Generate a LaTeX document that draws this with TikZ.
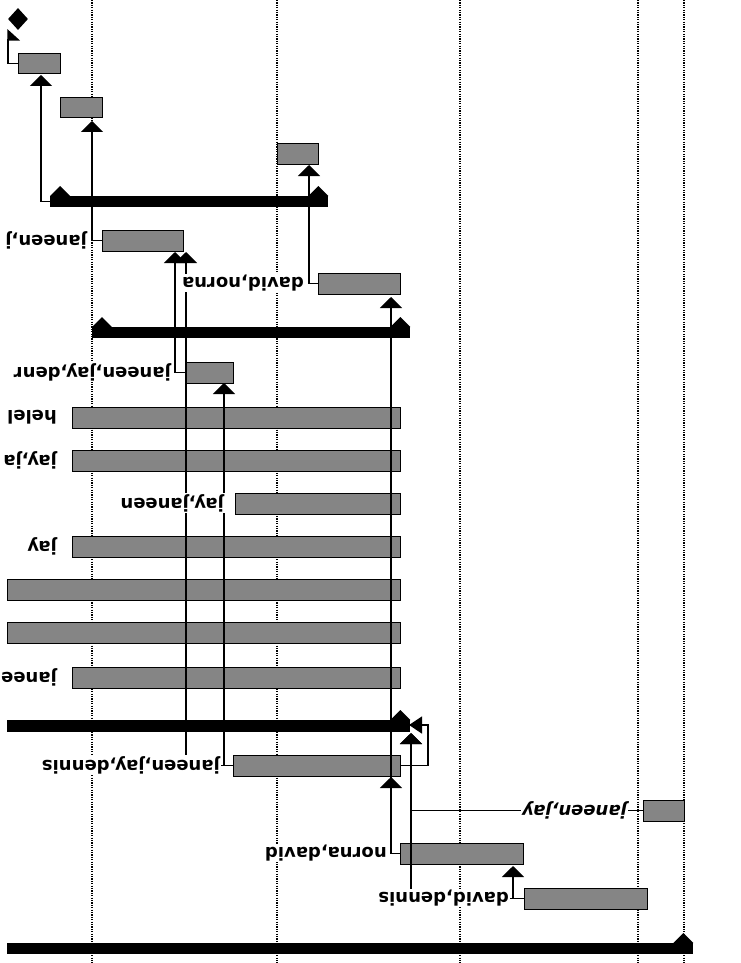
\documentclass[tikz,border=0pt]{standalone}
\usepackage{fontspec}
\setmainfont{DejaVu Sans}
\usetikzlibrary{calc,positioning,arrows.meta,shapes.geometric}
\definecolor{color_bar_fill}{HTML}{858585}

\tikzset{
	taskbar/.style={draw=black,line width=1pt,fill=color_bar_fill,anchor=north west,inner sep=0pt,minimum height=20.5pt},
	sumbar/.style={fill=black,anchor=north west,inner sep=0pt,minimum height=11pt},
	gridline/.style={line width=1.2pt,dash pattern=on 1.2pt off 1.2pt},
	link/.style={line width=1.4pt,-{Triangle[width=22pt,length=11pt]}},
	lbl/.style={font=\bfseries\fontsize{18}{20}\selectfont,fill=white,inner sep=1pt,rotate=180,anchor=west},
}

\begin{document}
\begin{tikzpicture}[x=1pt,y=-1pt]
				\useasboundingbox (0, 0) rectangle (740, 963);
				% Grid
				\foreach \gx in {92, 277, 460, 638, 684}
					\draw[gridline] (\gx, 0) -- (\gx, 963);

				% Milestone
				\node[diamond,fill=black,inner sep=0pt,minimum width=20pt,minimum height=22pt] (M) at (18, 19) {};

				% Task bars
				\node[taskbar,minimum width=42pt] (A) at (18, 53) {};
				\node[taskbar,minimum width=42pt] (B) at (60, 97) {};
				\node[taskbar,minimum width=41pt] (C) at (277, 143) {};
				\node[taskbar,minimum width=81pt] (D) at (102, 230) {};
				\node[taskbar,minimum width=82pt] (E) at (318, 273) {};
				\node[taskbar,minimum width=48pt] (F) at (185, 362) {};
				\node[taskbar,minimum width=328pt] (H1) at (72, 407) {};
				\node[taskbar,minimum width=328pt] (H2) at (72, 450) {};
				\node[taskbar,minimum width=165pt] (H3) at (235, 493) {};
				\node[taskbar,minimum width=328pt] (H4) at (72, 536) {};
				\node[taskbar,minimum width=393pt] (H5) at (7, 579) {};
				\node[taskbar,minimum width=393pt] (H6) at (7, 622) {};
				\node[taskbar,minimum width=328pt] (H7) at (72, 667) {};
				\node[taskbar,minimum width=167pt] (G) at (233, 755) {};
				\node[taskbar,minimum width=123pt] (L) at (400, 843) {};
				\node[taskbar,minimum width=123pt] (K) at (524, 888) {};
				\node[taskbar,minimum width=41pt] (J) at (643, 800) {};

				% Summary bars
				\node[sumbar,minimum width=278pt] (S1) at (50, 196) {};
				\node[sumbar,minimum width=318pt] (S2) at (92, 327) {};
				\node[sumbar,minimum width=403pt,minimum height=12pt] (S3) at (7, 720) {};
				\node[sumbar,minimum width=686pt] (S4) at (7, 943) {};
				\fill (S1.north west) -- ++(20, 0) -- ++(-10, -10) -- cycle;
				\fill (S1.north east) -- ++(-20, 0) -- ++(10, -10) -- cycle;
				\fill (S2.north west) -- ++(20, 0) -- ++(-10, -10) -- cycle;
				\fill (S2.north east) -- ++(-20, 0) -- ++(10, -10) -- cycle;
				\fill (S3.north east) -- ++(-20, 0) -- ++(10, -10) -- cycle;
				\fill (S4.north east) -- ++(-20, 0) -- ++(10, -10) -- cycle;

				% Arrow targets
				\coordinate (tM) at (8, 29);
				\coordinate (tA) at (41, 75);
				\coordinate (tB) at (92, 121);
				\coordinate (tC) at (309, 165);
				\coordinate (tD1) at (175, 252);
				\coordinate (tD2) at (186, 252);
				\coordinate (tE) at (391, 297);
				\coordinate (tF) at (224, 383);
				\coordinate (tG) at (391, 777);
				\coordinate (tS3) at (411, 733);
				\coordinate (tS3e) at (409, 725);
				\coordinate (tL) at (513, 866);

				% Links
				\draw[link,-{Triangle[width=24pt,length=11pt,right]}] (A.west) -| (tM);
				\draw[link] (S1.west) -| (tA);
				\draw[link] (D.west) -| (tB);
				\draw[link] (E.west) -| (tC);
				\draw[link] (F.west) -| (tD1);
				\draw[link] (G.west) -| (tD2);
				\draw[link] (G.west) -| (tF);
				\draw[link] (L.west) -| (tE);
				\draw[link] (L.west) -| (tG);
				\draw[link,-{Triangle[width=17pt,length=13pt]}] (G.east) -- ++(27, 0) |- (tS3e);
				\draw[link] (J.west) -| (tS3);
				\draw[link] (K.west) -| (tS3);
				\draw[link] (K.west) -| (tL);

				% Labels
				\node[lbl] (lD) at (88, 240) {janeen,j};
				\node[lbl] (lE) at (305, 283) {david,norna};
				\node[lbl] (lF) at (172, 372) {janeen,jay,denr};
				\node[lbl] (lH1) at (58, 417) {helel};
				\node[lbl] (lH2) at (58, 460) {jay,ja};
				\node[lbl] (lH3) at (225, 503) {jay,janeen};
				\node[lbl] (lH4) at (58, 546) {jay};
				\node[lbl] (lH7) at (58, 677) {janee};
				\node[lbl] (lG) at (221, 765) {janeen,jay,dennis};
				\node[lbl] (lL) at (388, 853) {norna,david};
				\node[lbl] (lK) at (510, 898) {david,dennis};
				\node[lbl,font=\bfseries\itshape\fontsize{18}{20}\selectfont] (lJ) at (628, 810) {janeen,jay};
			\end{tikzpicture}
\end{document}
